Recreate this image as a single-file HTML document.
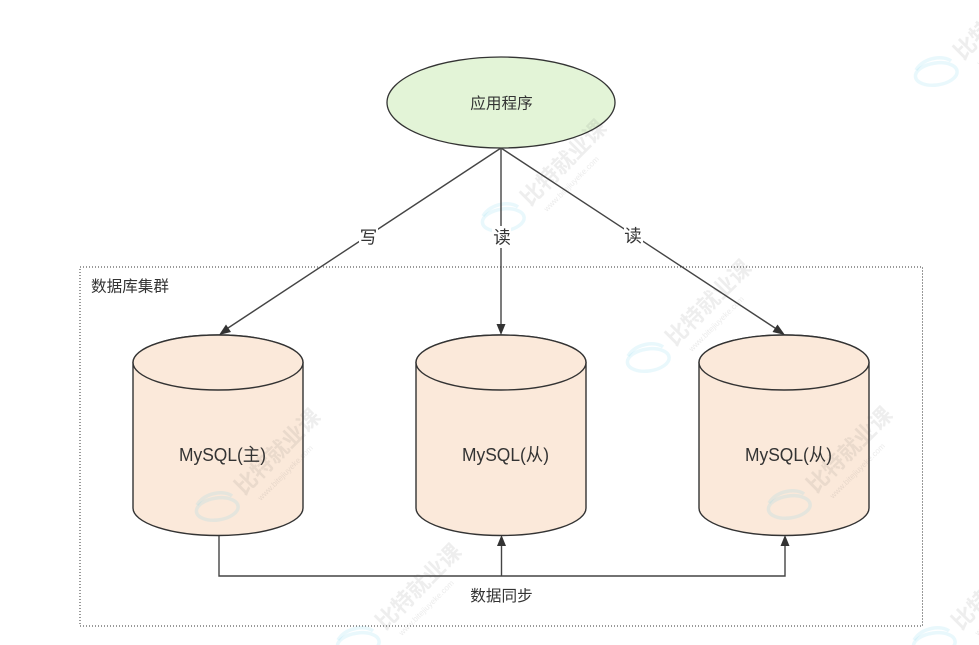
<!DOCTYPE html>
<html><head><meta charset="utf-8"><style>
html,body{margin:0;padding:0;background:#fff;width:979px;height:645px;overflow:hidden}
svg{display:block;filter:blur(.35px)}
text{font-family:"Liberation Sans","Noto Sans CJK SC",sans-serif;fill:#333}
.cn{font-family:"Noto Sans CJK SC","WenQuanYi Zen Hei",sans-serif;font-size:15.6px}
.lb{font-family:"Noto Sans CJK SC","WenQuanYi Zen Hei",sans-serif;font-size:17.5px}
.my{font-size:18px}
.wm{font-family:"Noto Sans CJK SC",sans-serif;font-size:22px;font-weight:700;fill:rgba(90,90,90,.1)}
.wu{font-family:"Liberation Sans",sans-serif;font-size:8px;fill:rgba(90,90,90,.12)}
</style></head><body>
<svg width="979" height="645" viewBox="0 0 979 645" xmlns="http://www.w3.org/2000/svg">
<defs>
<g id="logo" fill="none" stroke="rgba(120,210,235,.16)" stroke-width="3.5">
<ellipse cx="0" cy="2" rx="21" ry="11" transform="rotate(-8)"/>
<path d="M-20 -2C-12 -15 8 -17 15 -11"/>
</g>
</defs>

<rect x="80" y="267" width="842.5" height="359" fill="none" stroke="#333" stroke-width="1" stroke-dasharray="1 2"/>

<ellipse cx="501" cy="102.5" rx="114" ry="45.5" fill="#e3f4d7" stroke="#333" stroke-width="1.3"/>

<g fill="#fbe9da" stroke="#333" stroke-width="1.4">
<path d="M133 362.500A85 27.500 0 0 1 303 362.500V508A85 27.500 0 0 1 133 508Z"/>
<ellipse cx="218" cy="362.500" rx="85" ry="27.500"/>
<path d="M416 362.500A85 27.500 0 0 1 586 362.500V508A85 27.500 0 0 1 416 508Z"/>
<ellipse cx="501" cy="362.500" rx="85" ry="27.500"/>
<path d="M699 362.500A85 27.500 0 0 1 869 362.500V508A85 27.500 0 0 1 699 508Z"/>
<ellipse cx="784" cy="362.500" rx="85" ry="27.500"/>
</g>

<!-- watermarks -->
<g>
<g transform="translate(503,218)"><use href="#logo"/><text class="wm" transform="translate(27,-11) rotate(-45)">比特就业课</text><text class="wu" transform="translate(44,-6) rotate(-45)">www.bitejiuyeke.com</text></g>
<g transform="translate(217,507)"><use href="#logo"/><text class="wm" transform="translate(27,-11) rotate(-45)">比特就业课</text><text class="wu" transform="translate(44,-6) rotate(-45)">www.bitejiuyeke.com</text></g>
<g transform="translate(648,358)"><use href="#logo"/><text class="wm" transform="translate(27,-11) rotate(-45)">比特就业课</text><text class="wu" transform="translate(44,-6) rotate(-45)">www.bitejiuyeke.com</text></g>
<g transform="translate(789,505)"><use href="#logo"/><text class="wm" transform="translate(27,-11) rotate(-45)">比特就业课</text><text class="wu" transform="translate(44,-6) rotate(-45)">www.bitejiuyeke.com</text></g>
<g transform="translate(936,72)"><use href="#logo"/><text class="wm" transform="translate(27,-11) rotate(-45)">比特就业课</text><text class="wu" transform="translate(44,-6) rotate(-45)">www.bitejiuyeke.com</text></g>
<g transform="translate(358,642)"><use href="#logo"/><text class="wm" transform="translate(27,-11) rotate(-45)">比特就业课</text><text class="wu" transform="translate(44,-6) rotate(-45)">www.bitejiuyeke.com</text></g>
<g transform="translate(934,642)"><use href="#logo"/><text class="wm" transform="translate(27,-11) rotate(-45)">比特就业课</text><text class="wu" transform="translate(44,-6) rotate(-45)">www.bitejiuyeke.com</text></g>
</g>

<!-- connectors -->
<g fill="none" stroke="#444" stroke-width="1.4">
<path d="M501 148L225 330"/>
<path d="M501 148V326"/>
<path d="M501 148L778 330"/>
<path d="M219 536V576H785V545"/>
<path d="M501.500 576V545"/>
</g>
<g fill="#333" stroke="none">
<path d="M219 335L226 324.500L231 332Z"/>
<path d="M501 335L496.500 324H505.500Z"/>
<path d="M785 335L772.500 332L777.500 324.500Z"/>
<path d="M501.500 535L497 546H506Z"/>
<path d="M785 535L780.500 546H789.500Z"/>
</g>

<rect x="359" y="227" width="19" height="21" fill="#fff"/>
<rect x="492" y="226" width="19" height="22" fill="#fff"/>
<rect x="624" y="225" width="19" height="21" fill="#fff"/>

<g class="labels">
<text class="cn" x="501.500" y="108.500" text-anchor="middle">应用程序</text>
<text class="lb" x="368.500" y="243.500" text-anchor="middle">写</text>
<text class="lb" x="502" y="243.500" text-anchor="middle">读</text>
<text class="lb" x="633" y="242" text-anchor="middle">读</text>
<text class="cn" x="91" y="291.500">数据库集群</text>
<text class="cn" x="501.500" y="601" text-anchor="middle">数据同步</text>
<text class="my" x="179" y="461" textLength="87" lengthAdjust="spacingAndGlyphs">MySQL(主)</text>
<text class="my" x="462" y="461" textLength="87" lengthAdjust="spacingAndGlyphs">MySQL(从)</text>
<text class="my" x="745" y="461" textLength="87" lengthAdjust="spacingAndGlyphs">MySQL(从)</text>
</g>
</svg>
</body></html>
